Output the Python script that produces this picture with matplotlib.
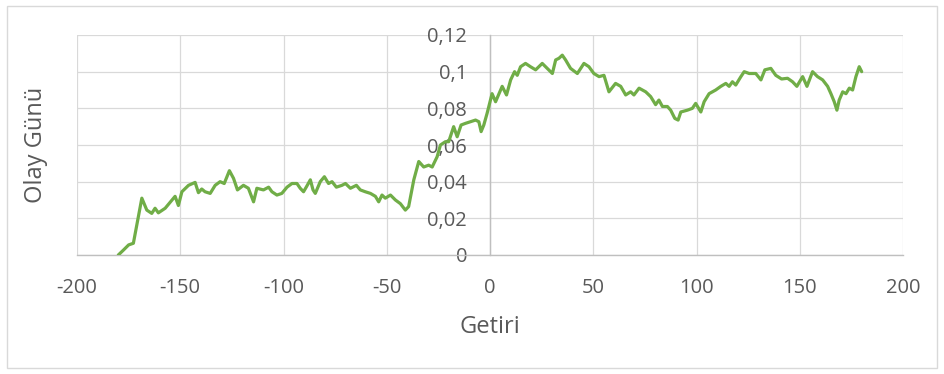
from matplotlib import pyplot as plt
from matplotlib.ticker import FuncFormatter, MultipleLocator
from matplotlib.patches import Rectangle

# values (event day vs. cumulative return)
days = [-180, -177.5, -175, -172.7, -168.6, -166.2, -163.8, -162.2, -160.6, -157.3,
        -154, -152.5, -150.9, -149.2, -146, -142.8, -141.2, -139.6, -138, -135.5,
        -133.1, -130.7, -128.7, -126.2, -124.2, -122.3, -119.4, -117, -114.5, -112.9,
        -109.7, -107.2, -105.6, -103.2, -100.8, -98.3, -95.9, -93.5, -91.9, -90.3,
        -89, -87, -85.7, -84.6, -82.2, -80.2, -78.2, -76.5, -74.4, -71.7,
        -70, -67.6, -64.7, -62.8, -60.4, -57.9, -55.5, -53.9, -52.3, -50.7,
        -48.2, -45.8, -43.4, -41, -39.4, -36.9, -34.5, -32.1, -29.7, -28,
        -25.6, -24, -21.6, -20, -17.6, -15.9, -14, -11.9, -9.5, -7,
        -5.4, -4.3, -3, -1.4, 1, 2.7, 5.9, 8, 10, 11.9,
        13.2, 14.8, 17.2, 19.6, 22.1, 25.3, 27.7, 30.2, 31.8, 33.4,
        35, 36.6, 39, 42.3, 45.5, 47.9, 50.3, 52.8, 55.2, 57.6,
        60.8, 63.3, 65.7, 68.1, 69.7, 72.2, 75.4, 77.8, 80.2, 81.8,
        83.5, 85.9, 87.5, 89.5, 91.1, 92.4, 95.6, 98, 99.6, 102.1,
        103.7, 106.1, 109.3, 111.8, 114.2, 115.8, 117.4, 119, 121.5, 123.1,
        125.5, 128.7, 131.2, 133.1, 136, 138.4, 141.2, 144.1, 146.5, 148.6,
        151.4, 153.5, 156.2, 158.6, 161.1, 163.5, 165.1, 166.7, 168, 169.1,
        170.8, 172.4, 174, 175.6, 177.2, 178.8, 180]
returns = [0.0, 0.0027, 0.0055, 0.0064, 0.031, 0.0245, 0.0227, 0.0255, 0.023, 0.0255,
           0.030, 0.032, 0.027, 0.0345, 0.038, 0.0396, 0.034, 0.036, 0.0345, 0.0336,
           0.038, 0.040, 0.039, 0.046, 0.0418, 0.0355, 0.038, 0.0364, 0.029, 0.0364,
           0.0355, 0.037, 0.0345, 0.0327, 0.0336, 0.037, 0.039, 0.039, 0.0364, 0.0345,
           0.037, 0.041, 0.0355, 0.0336, 0.040, 0.0427, 0.039, 0.040, 0.037, 0.038,
           0.039, 0.0364, 0.038, 0.0355, 0.0345, 0.0336, 0.032, 0.029, 0.0327, 0.031,
           0.0327, 0.030, 0.028, 0.0245, 0.0264, 0.041, 0.051, 0.048, 0.049, 0.048,
           0.0536, 0.060, 0.0618, 0.0618, 0.070, 0.0645, 0.0709, 0.0718, 0.0727, 0.0736,
           0.0727, 0.0673, 0.0709, 0.0773, 0.088, 0.0836, 0.092, 0.0873, 0.0955, 0.100,
           0.098, 0.1027, 0.1045, 0.1027, 0.101, 0.1045, 0.1018, 0.099, 0.1064, 0.1073,
           0.109, 0.1064, 0.1018, 0.099, 0.1045, 0.1027, 0.099, 0.0973, 0.098, 0.089,
           0.0936, 0.092, 0.0873, 0.089, 0.0873, 0.091, 0.089, 0.0864, 0.082, 0.0845,
           0.081, 0.081, 0.079, 0.0745, 0.0736, 0.078, 0.079, 0.080, 0.0827, 0.078,
           0.0836, 0.088, 0.090, 0.092, 0.0936, 0.092, 0.0945, 0.0927, 0.0973, 0.100,
           0.099, 0.099, 0.0955, 0.101, 0.1018, 0.098, 0.096, 0.0964, 0.0945, 0.092,
           0.0973, 0.092, 0.100, 0.0973, 0.0955, 0.092, 0.088, 0.0836, 0.079, 0.0845,
           0.089, 0.088, 0.091, 0.090, 0.0973, 0.1027, 0.100]

x_label = "Getiri"
y_label = "Olay Günü"

plt.rcParams['font.family'] = ['Open Sans', 'DejaVu Sans']
plt.rcParams['axes.unicode_minus'] = False
txt = '#595959'
grid = '#d9d9d9'

fig = plt.figure(figsize=(9.44, 3.74), dpi=100)
ax = fig.add_axes([77 / 944, 1 - 255 / 374, 826 / 944, 220 / 374])

ax.plot(days, returns, color='#70AD47', lw=2.3, solid_joinstyle='round',
        solid_capstyle='round', zorder=5)

ax.set_xlim(-200, 200)
ax.set_ylim(0, 0.12)
ax.xaxis.set_major_locator(MultipleLocator(50))
ax.yaxis.set_major_locator(MultipleLocator(0.02))
ax.yaxis.set_major_formatter(FuncFormatter(lambda v, p: ('%g' % round(v, 3)).replace('.', ',')))

ax.grid(True, color=grid, lw=0.9, zorder=0)
ax.set_axisbelow(True)
for s in ['top', 'right']:
    ax.spines[s].set_visible(False)
ax.spines['left'].set_position(('data', 0))
ax.spines['left'].set_color('#bfbfbf')
ax.spines['bottom'].set_color('#bfbfbf')
ax.spines['left'].set_linewidth(1)
ax.spines['bottom'].set_linewidth(1)

ax.tick_params(axis='both', length=0, labelsize=14.5, labelcolor=txt)
ax.tick_params(axis='x', pad=16.5)
ax.tick_params(axis='y', pad=16.5)

fig.text(489.5 / 944, 1 - 333 / 374, x_label, ha='center', va='baseline',
         fontsize=17, color=txt)
fig.text(42 / 944, 1 - 145 / 374, y_label, ha='center', va='baseline',
         rotation=90, rotation_mode='anchor', fontsize=17, color=txt)

# outer chart border
fig.patches.append(Rectangle((7 / 944, 6 / 374), 930 / 944, 362 / 374,
                             transform=fig.transFigure, fill=False,
                             edgecolor=grid, lw=1))

fig.savefig('out.png', dpi=100)
